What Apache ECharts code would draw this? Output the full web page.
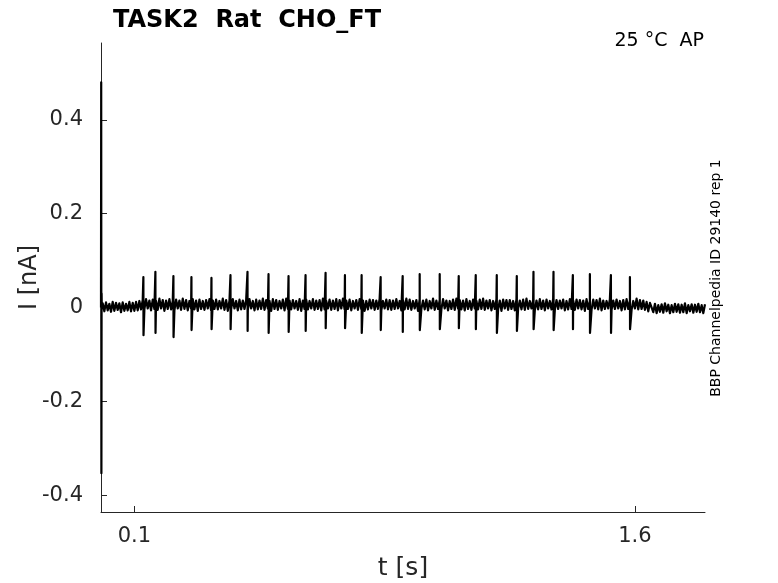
<!DOCTYPE html>
<html>
<head>
<meta charset="utf-8">
<script src="https://cdn.jsdelivr.net/npm/echarts@6/dist/echarts.min.js"></script>
<style>
  html, body { margin: 0; padding: 0; background: #fff; }
  #chart { width: 778px; height: 583px; }
</style>
</head>
<body>
<div id="chart"></div>
<script>
// stimulus artefact right at t = 0
const transientT = [0, 0.0006, 0.0012, 0.0018, 0.0024];
const transientI = [0, 0.48, -0.353, 0.03, 0.002];

// sampled trace (pA), every 5 ms from t = 0.005 s
const traceStart = 0.005;
const dt = 0.005;
const current_pA = [
  // before the train
  9, -8, 11, -6, 8, -9, 12, -7, 10, -5, 9, -10, 11, -7, 8, -6, 12, -8, 10, -7,
  // step up
  12, -6, 14, -4,
  // during the train
  16, -4, 18, -2, 15, -6, 17, -3, 14, -5, 19, -2, 16, -7, 15, -3, 18, -4, 14, -6,
  17, -2, 15, -5, 19, -3, 16, -6, 14, -2, 18, -4, 15, -7, 17, -3, 14, -5, 16, -2,
  18, -6, 15, -3, 17, -4, 14, -2, 19, -5, 16, -7, 15, -3, 18, -2, 14, -6, 17, -4,
  15, -3, 16, -5, 18, -2, 14, -6, 17, -4, 15, -3, 19, -5, 16, -2, 14, -7, 18, -3,
  16, -5, 14, -2, 17, -6, 19, -3, 15, -4, 16, -2, 14, -5, 18, -7, 15, -3, 17, -4,
  14, -2, 18, -5, 15, -3, 16, -6, 19, -4, 14, -2, 17, -5, 15, -3, 18, -6, 16, -2,
  19, -4, 15, -3, 17, -6, 14, -2, 16, -5, 18, -3, 15, -7, 14, -4, 17, -2, 16, -5,
  15, -3, 19, -6, 14, -2, 17, -4, 16, -5, 15, -3, 18, -2, 14, -6, 16, -4, 19, -3,
  17, -5, 14, -2, 16, -7, 18, -3, 15, -4, 17, -6, 14, -2, 19, -5, 15, -3, 16, -4,
  18, -2, 15, -6, 14, -3, 17, -5, 19, -2, 16, -4, 15, -6, 18, -3, 14, -5, 17, -2,
  14, -4, 17, -3, 19, -5, 15, -2, 16, -6, 14, -3, 18, -4, 15, -7, 17, -2, 16, -5,
  16, -3, 14, -6, 18, -2, 15, -4, 17, -5, 19, -3, 14, -2, 16, -6, 15, -4, 18, -3,
  15, -6, 17, -2, 14, -4, 19, -5, 16, -3, 15, -2, 17, -6, 14, -4, 18, -3, 15, -5,
  17, -2, 16, -4, 15, -7, 18, -3, 14, -5, 17, -2, 16, -4, 19, -6, 15, -3, 14, -2,
  18, -5, 15, -3, 17, -2, 14, -6, 16, -4, 18, -3, 15, -5, 14, -2, 19, -4, 16, -3,
  // step down
  15, -5, 12, -8, 10,
  // after the train
  6, -10, 8, -12, 5, -9, 7, -11, 9, -8, 6, -12, 5, -10, 8, -9, 7, -11, 6, -10,
  9, -12, 5, -8, 7, -11, 6, -9, 8, -10, 5, -12, 7
];

// action potential currents
const spikeT = [0.127, 0.163, 0.217, 0.271, 0.331, 0.388, 0.439, 0.502, 0.562,
  0.613, 0.673, 0.731, 0.781, 0.838, 0.904, 0.955, 1.015, 1.072, 1.123, 1.186,
  1.246, 1.296, 1.356, 1.414, 1.465, 1.528, 1.585];
const spikePeak = [0.065, 0.076, 0.067, 0.065, 0.063, 0.069, 0.076, 0.071, 0.067,
  0.069, 0.074, 0.069, 0.069, 0.065, 0.067, 0.071, 0.071, 0.067, 0.069, 0.069,
  0.067, 0.076, 0.076, 0.069, 0.071, 0.069, 0.065];
const spikeTrough = [-0.059, -0.054, -0.063, -0.048, -0.046, -0.046, -0.050, -0.054, -0.052,
  -0.050, -0.044, -0.044, -0.054, -0.048, -0.052, -0.048, -0.046, -0.044, -0.046, -0.054,
  -0.050, -0.046, -0.048, -0.046, -0.054, -0.054, -0.046];

const yTicks = [-0.4, -0.2, 0, 0.2, 0.4];
const xTicks = [0.1, 1.6];

const points = [];
transientT.forEach((t, i) => points.push([t, transientI[i]]));
current_pA.forEach((v, i) => points.push([+(traceStart + i * dt).toFixed(4), v / 1000]));
spikeT.forEach((t, i) => {
    points.push([t, spikePeak[i]]);
    points.push([t + 0.0004, spikeTrough[i]]);
});
points.sort((a, b) => a[0] - b[0]);

const axisColor = '#262626';
const font = 'DejaVu Sans';

const chart = echarts.init(document.getElementById('chart'));
chart.setOption({
    animation: false,
    backgroundColor: '#fff',
    title: {
        text: 'TASK2  Rat  CHO_FT',
        left: 108,
        top: 4,
        textStyle: { fontFamily: font, fontSize: 24, fontWeight: 'bold', color: '#000' }
    },
    grid: { left: 101, right: 73, top: 43, bottom: 71, outerBoundsMode: 'none' },
    xAxis: {
        type: 'value',
        min: 0,
        max: 1.81,
        name: 't [s]',
        nameLocation: 'middle',
        nameGap: 44,
        nameMoveOverlap: false,
        nameTextStyle: { fontFamily: font, fontSize: 25, color: axisColor },
        axisLine: { onZero: false, lineStyle: { color: axisColor, width: 1 } },
        axisTick: { inside: true, length: 6, customValues: xTicks, lineStyle: { color: axisColor } },
        axisLabel: { customValues: xTicks, margin: 14, fontFamily: font, fontSize: 21, color: axisColor },
        splitLine: { show: false }
    },
    yAxis: {
        type: 'value',
        min: -0.4356,
        max: 0.5636,
        name: 'I [nA]',
        nameLocation: 'middle',
        nameGap: 59,
        nameMoveOverlap: false,
        nameTextStyle: { fontFamily: font, fontSize: 24, color: axisColor },
        axisLine: { show: true, onZero: false, lineStyle: { color: axisColor, width: 1 } },
        axisTick: { show: true, inside: true, length: 6, customValues: yTicks, lineStyle: { color: axisColor } },
        axisLabel: {
            customValues: yTicks, margin: 18, fontFamily: font, fontSize: 21, color: axisColor,
            formatter: v => String(v)
        },
        splitLine: { show: false }
    },
    graphic: [
        {
            type: 'text',
            right: 74,
            top: 32,
            style: { text: '25 °C  AP', fontFamily: font, fontSize: 19, fill: '#000' }
        },
        {
            type: 'text',
            x: 716,
            y: 278,
            rotation: Math.PI / 2,
            style: {
                text: 'BBP Channelpedia ID 29140 rep 1',
                fontFamily: font, fontSize: 14, fill: '#000',
                align: 'center', verticalAlign: 'middle'
            }
        }
    ],
    series: [{
        type: 'line',
        data: points,
        showSymbol: false,
        symbol: 'none',
        lineStyle: { color: '#000', width: 2.2, join: 'round' },
        clip: true
    }]
});
</script>
</body>
</html>
